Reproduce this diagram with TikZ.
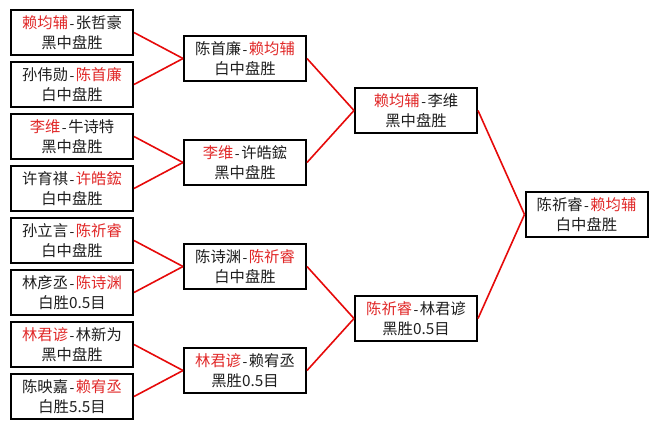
\documentclass[tikz,border=0pt]{standalone}
\usepackage{fontspec}
\setmainfont{Noto Sans CJK SC}
\newfontfamily\halfw{Liberation Mono}
\definecolor{winred}{RGB}{225,40,40}
\definecolor{linered}{RGB}{230,10,10}
\definecolor{txt}{RGB}{30,30,30}
\newcommand{\W}[1]{\textcolor{winred}{#1}}
\newcommand{\dsh}{{\halfw\fontsize{13}{20}\selectfont-}}
\begin{document}
\begin{tikzpicture}[x=1pt,y=-1pt,
  game/.style={draw=black, line width=2pt, fill=white, rectangle,
    minimum width=122pt, minimum height=45pt, inner sep=0pt,
    align=center, text=txt, font=\fontsize{15.3}{20}\selectfont},
  link/.style={draw=linered, line width=1.6pt}]
\useasboundingbox[fill=white] (0,0) rectangle (658,429);
% round 1
\node[game] (a1) at (72,32.5)  {\W{赖均辅}\dsh 张哲豪\\黑中盘胜};
\node[game] (a2) at (72,84.5)  {孙伟勋\dsh\W{陈首廉}\\白中盘胜};
\node[game] (a3) at (72,136.5) {\W{李维}\dsh 牛诗特\\黑中盘胜};
\node[game] (a4) at (72,188.5) {许育祺\dsh\W{许皓鋐}\\白中盘胜};
\node[game] (a5) at (72,240.5) {孙立言\dsh\W{陈祈睿}\\白中盘胜};
\node[game] (a6) at (72,292.5) {林彦丞\dsh\W{陈诗渊}\\白胜0.5目};
\node[game] (a7) at (72,344.5) {\W{林君谚}\dsh 林新为\\黑中盘胜};
\node[game] (a8) at (72,396.5) {陈映嘉\dsh\W{赖宥丞}\\白胜5.5目};
% round 2
\node[game] (b1) at (245,58.5)  {陈首廉\dsh\W{赖均辅}\\白中盘胜};
\node[game] (b2) at (245,162.5) {\W{李维}\dsh 许皓鋐\\黑中盘胜};
\node[game] (b3) at (245,266.5) {陈诗渊\dsh\W{陈祈睿}\\白中盘胜};
\node[game] (b4) at (245,370.5) {\W{林君谚}\dsh 赖宥丞\\黑胜0.5目};
% round 3
\node[game] (c1) at (416,110.5) {\W{赖均辅}\dsh 李维\\黑中盘胜};
\node[game] (c2) at (416,318.5) {\W{陈祈睿}\dsh 林君谚\\黑胜0.5目};
% final
\node[game] (d1) at (586.5,214.5) {陈祈睿\dsh\W{赖均辅}\\白中盘胜};
% connectors
\draw[link] (a1.east) -- (b1.west);
\draw[link] (a2.east) -- (b1.west);
\draw[link] (a3.east) -- (b2.west);
\draw[link] (a4.east) -- (b2.west);
\draw[link] (a5.east) -- (b3.west);
\draw[link] (a6.east) -- (b3.west);
\draw[link] (a7.east) -- (b4.west);
\draw[link] (a8.east) -- (b4.west);
\draw[link] (b1.east) -- (c1.west);
\draw[link] (b2.east) -- (c1.west);
\draw[link] (b3.east) -- (c2.west);
\draw[link] (b4.east) -- (c2.west);
\draw[link] (c1.east) -- (d1.west);
\draw[link] (c2.east) -- (d1.west);
\end{tikzpicture}
\end{document}
